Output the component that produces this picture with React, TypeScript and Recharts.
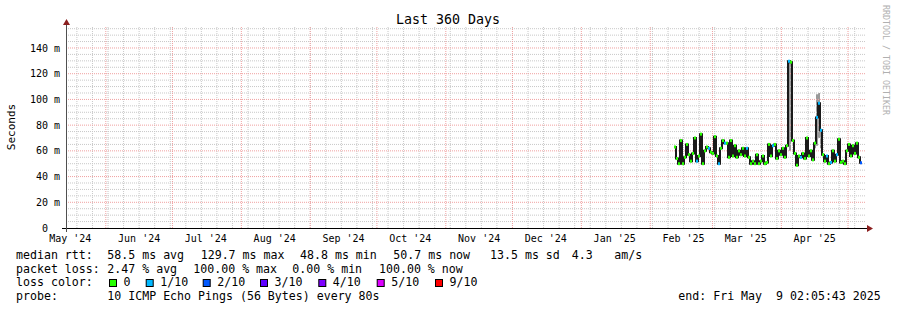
import { ComposedChart, Line, Area, XAxis, YAxis, ReferenceLine } from "recharts";

const WIDTH = 897;
const HEIGHT = 310;
const PLOT_LEFT = 66;
const PLOT_RIGHT = 866;
const PLOT_TOP = 26;
const PLOT_BOTTOM = 228;
const Y_MAX = 157.1;
const FONT = "'DejaVu Sans Mono', monospace";

// days since graph start (May 14 2024 02:05)
const monthStartDays = [17.91, 47.91, 78.91, 109.91, 139.91, 170.91, 200.91, 231.91, 262.91, 290.91, 321.91, 351.91];
const monthLabelDays = [1.91, 32.91, 62.91, 93.91, 124.91, 154.91, 185.91, 215.91, 246.91, 277.91, 305.91, 336.91];
const monthLabels = ["May '24", "Jun '24", "Jul '24", "Aug '24", "Sep '24", "Oct '24", "Nov '24", "Dec '24", "Jan '25", "Feb '25", "Mar '25", "Apr '25"];
const yTicks = [0, 20, 40, 60, 80, 100, 120, 140];

const sampleStart = 274.05;
const sampleStep = 0.9;

// median rtt (ms)
const medianMs = [
  63, 54, 50, 68, 50, 55, 65, 57, 52, 58,
  70, 52, 56, 73, 50, 60, 63, 62, 59, 58,
  71, 56, 50, 62, 68, 66, 66, 55, 68, 56,
  64, 55, 60, 57, 62, 56, 62, 55, 50, 52,
  50, 57, 50, 52, 56, 50, 51, 65, 56, 64,
  65, 54, 60, 57, 62, 55, 64, 129.7, 129, 68,
  58, 48.8, 56, 55, 58, 54, 70, 56, 60, 53,
  66, 86, 97, 76, 57, 52, 56, 50, 51, 60,
  52, 57, 69, 51, 52, 50, 60, 65, 56, 64,
  58, 66, 55, 50.7,
];

// packet loss per sample, in tenths
const lossTenths = [
  0, 0, 0, 0, 0, 0, 0, 0, 0, 0,
  0, 1, 0, 0, 0, 0, 0, 1, 0, 0,
  0, 0, 1, 0, 0, 1, 0, 0, 0, 0,
  0, 0, 0, 0, 0, 0, 1, 0, 0, 0,
  0, 0, 0, 0, 0, 0, 0, 0, 0, 1,
  0, 0, 0, 0, 0, 0, 0, 1, 0, 0,
  0, 0, 0, 1, 0, 0, 0, 0, 0, 0,
  0, 1, 1, 1, 0, 0, 1, 0, 1, 0,
  0, 1, 0, 0, 0, 0, 0, 0, 0, 0,
  0, 0, 0, 2,
];

// smoke (ping spread) where it shows past the median line
const smokeIndex = [57, 58, 70, 71, 72, 73];
const smokeLow = [60, 60, 62, 64, 70, 62];
const smokeHigh = [130, 130, 72, 104, 105, 92];

const lossColors = ["#26ff00", "#00b8ff", "#0059ff", "#5e00ff", "#7e00ff", "#dd00ff", "#dd00ff", "#dd00ff", "#dd00ff", "#ff0000", "#ff0000"];
const legendLoss = ["0", "1/10", "2/10", "3/10", "4/10", "5/10", "9/10"];
const legendLossColors = ["#26ff00", "#00b8ff", "#0059ff", "#5e00ff", "#7e00ff", "#dd00ff", "#ff0000"];

const data = medianMs.map((m, i) => {
  const s = smokeIndex.indexOf(i);
  return {
    day: sampleStart + i * sampleStep,
    median: m,
    loss: lossTenths[i],
    smoke: s >= 0 ? [smokeLow[s], smokeHigh[s]] : null,
  };
});

const weekDays: number[] = [];
for (let d = 4.91; d < 360; d += 7) weekDays.push(d);
const minorMs: number[] = [];
for (let v = 5; v < Y_MAX; v += 5) if (v % 20 !== 0) minorMs.push(v);

const MINOR = "#c8c8c8";
const MAJOR = "#f0a0a0";

function YTick(props: any) {
  const { y, payload } = props;
  const v = payload.value;
  return (
    <text x={v === 0 ? PLOT_LEFT - 18 : PLOT_LEFT - 6} y={y} dy={3.6} textAnchor="end" fontFamily={FONT} fontSize={10} fill="#000">
      {v === 0 ? "0" : `${v} m`}
    </text>
  );
}

function XTick(props: any) {
  const { x, payload } = props;
  const idx = monthLabelDays.indexOf(payload.value);
  return (
    <text x={x} y={PLOT_BOTTOM + 13.5} textAnchor="middle" fontFamily={FONT} fontSize={10} fill="#000">
      {monthLabels[idx]}
    </text>
  );
}

// loss-coloured marker on the median, like smokeping's stacked colour band
function LossDot(props: any) {
  const { cx, cy, payload, index } = props;
  if (cx == null || cy == null) return <g key={index} />;
  return <rect key={index} x={cx - 1} y={cy - 1.5} width={2} height={3} fill={lossColors[payload.loss]} />;
}

const pre = { whiteSpace: "pre" as const };
const legendBoxX = [109, 145.7, 202.7, 260, 318.3, 376.7, 435];

function T(props: { x: number; y: number; children: string }) {
  return (
    <text x={props.x} y={props.y} xmlSpace="preserve" style={pre}>
      {props.children}
    </text>
  );
}

function App() {
  return (
    <div style={{ position: "absolute", left: 0, top: 0, width: WIDTH, height: HEIGHT, background: "#fff" }}>
      <ComposedChart
        width={WIDTH}
        height={HEIGHT}
        data={data}
        margin={{ top: PLOT_TOP, right: WIDTH - PLOT_RIGHT, left: 6, bottom: HEIGHT - PLOT_BOTTOM - 20 }}
      >
        {weekDays.map((d) => (
          <ReferenceLine key={"w" + d} x={d} stroke={MINOR} strokeDasharray="1 1" />
        ))}
        {minorMs.map((v) => (
          <ReferenceLine key={"h" + v} y={v} stroke={MINOR} strokeDasharray="1 1" />
        ))}
        {monthStartDays.map((d) => (
          <ReferenceLine key={"m" + d} x={d} stroke={MAJOR} strokeDasharray="1 1" />
        ))}
        {yTicks.filter((v) => v > 0).map((v) => (
          <ReferenceLine key={"y" + v} y={v} stroke={MAJOR} strokeDasharray="1 1" />
        ))}
        <XAxis
          type="number"
          dataKey="day"
          domain={[0, 360]}
          ticks={monthLabelDays}
          interval={0}
          tick={<XTick />}
          tickLine={false}
          axisLine={false}
          height={20}
          allowDataOverflow
        />
        <YAxis
          type="number"
          domain={[0, Y_MAX]}
          ticks={yTicks}
          interval={0}
          tick={<YTick />}
          tickLine={false}
          axisLine={false}
          width={60}
          allowDataOverflow
        />
        <Area
          type="step"
          dataKey="smoke"
          stroke="none"
          fill="#9a9a9a"
          fillOpacity={1}
          connectNulls={false}
          isAnimationActive={false}
        />
        <Line
          type="step"
          dataKey="median"
          stroke="#1a1a1a"
          strokeWidth={2}
          dot={LossDot}
          activeDot={false}
          isAnimationActive={false}
        />
      </ComposedChart>
      <svg width={WIDTH} height={HEIGHT} style={{ position: "absolute", left: 0, top: 0, pointerEvents: "none" }}>
        <line x1={PLOT_LEFT - 4} x2={PLOT_RIGHT + 4} y1={PLOT_BOTTOM + 0.5} y2={PLOT_BOTTOM + 0.5} stroke="#000" />
        <polygon points={`${PLOT_RIGHT + 1},${PLOT_BOTTOM - 3} ${PLOT_RIGHT + 1},${PLOT_BOTTOM + 4} ${PLOT_RIGHT + 7},${PLOT_BOTTOM + 0.5}`} fill="#8b1f1f" />
        <line x1={PLOT_LEFT + 0.5} x2={PLOT_LEFT + 0.5} y1={PLOT_BOTTOM + 4} y2={PLOT_TOP - 3} stroke="#505050" />
        <polygon points={`${PLOT_LEFT - 3},${PLOT_TOP - 1} ${PLOT_LEFT + 4},${PLOT_TOP - 1} ${PLOT_LEFT + 0.5},${PLOT_TOP - 7}`} fill="#8b1f1f" />
        <text x={448} y={23.5} textAnchor="middle" fontFamily={FONT} fontSize={13.3} fill="#000">Last 360 Days</text>
        <text x={11} y={127} textAnchor="middle" dominantBaseline="central" transform="rotate(-90 11 127)" fontFamily={FONT} fontSize={11} fill="#000">Seconds</text>
        <text x={886} y={60} textAnchor="middle" dominantBaseline="central" transform="rotate(90 886 60)" fontFamily={FONT} fontSize={8.3} fill="#b0b0b0">RRDTOOL / TOBI OETIKER</text>
        <g fontFamily={FONT} fontSize={11.6} fill="#000">
          <T x={16} y={258.7}>median rtt:</T>
          <T x={107.3} y={258.7}>58.5 ms avg</T>
          <T x={200.7} y={258.7}>129.7 ms max</T>
          <T x={300} y={258.7}>48.8 ms min</T>
          <T x={393.3} y={258.7}>50.7 ms now</T>
          <T x={490} y={258.7}>13.5 ms sd</T>
          <T x={571.7} y={258.7}>4.3</T>
          <T x={614.3} y={258.7}>am/s</T>
          <T x={16} y={272.7}>packet loss:</T>
          <T x={107.3} y={272.7}>2.47 % avg</T>
          <T x={193.3} y={272.7}>100.00 % max</T>
          <T x={292.3} y={272.7}>0.00 % min</T>
          <T x={379} y={272.7}>100.00 % now</T>
          <T x={16} y={286.3}>loss color:</T>
          {legendLoss.map((label, i) => (
            <g key={label}>
              <rect x={legendBoxX[i] + 0.5} y={279.5} width={7} height={7} fill={legendLossColors[i]} stroke="#000" />
              <T x={legendBoxX[i] + 14.5} y={286.3}>{label}</T>
            </g>
          ))}
          <T x={16} y={300}>probe:</T>
          <T x={107.3} y={300}>10 ICMP Echo Pings (56 Bytes) every 80s</T>
          <T x={678.3} y={300}>end: Fri May  9 02:05:43 2025</T>
        </g>
      </svg>
    </div>
  );
}

export default App;
